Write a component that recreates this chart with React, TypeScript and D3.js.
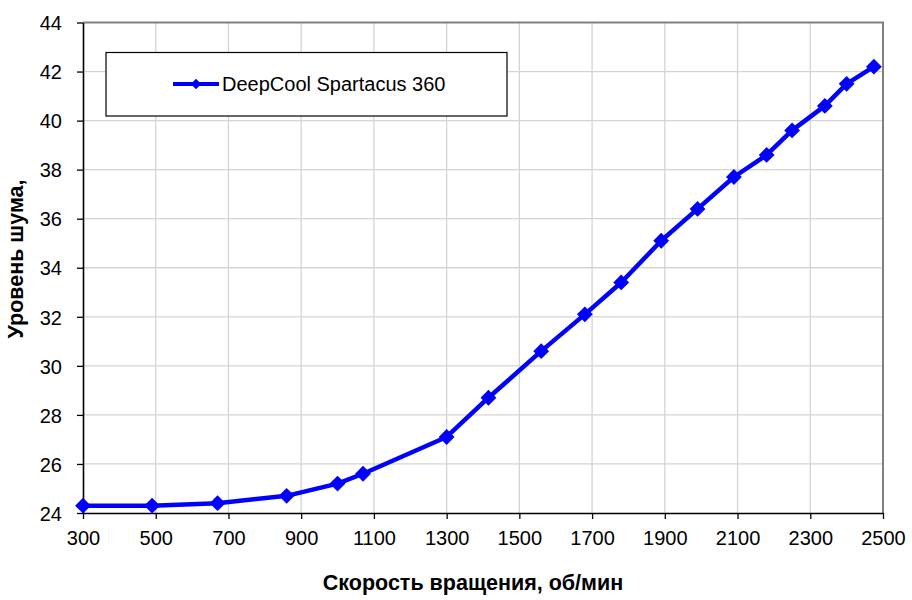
import React, { useEffect, useRef } from "react";
import * as d3 from "d3";

const WIDTH = 912;
const HEIGHT = 600;

const SERIES_NAME = "DeepCool Spartacus 360";
const rpm = [300, 490, 670, 860, 1000, 1070, 1300, 1415, 1560, 1680, 1780, 1890, 1990, 2090, 2180, 2250, 2340, 2400, 2475];
const noise = [24.3, 24.3, 24.4, 24.7, 25.2, 25.6, 27.1, 28.7, 30.6, 32.1, 33.4, 35.1, 36.4, 37.7, 38.6, 39.6, 40.6, 41.5, 42.2];
const xTicks = [300, 500, 700, 900, 1100, 1300, 1500, 1700, 1900, 2100, 2300, 2500];
const yTicks = [24, 26, 28, 30, 32, 34, 36, 38, 40, 42, 44];

const margin = { left: 83, right: 29, top: 22.5, bottom: 87 };
const FONT = "'Liberation Sans', Arial, sans-serif";
const BLUE = "#0000ff";

export default function App() {
  const ref = useRef<SVGSVGElement>(null);

  useEffect(() => {
    const container = ref.current;
    if (!container) return;

    const svg = d3.select(container);
    svg.selectAll("*").remove();

    const x = d3
      .scaleLinear()
      .domain([300, 2500])
      .range([margin.left, WIDTH - margin.right]);
    const y = d3
      .scaleLinear()
      .domain([24, 44])
      .range([HEIGHT - margin.bottom, margin.top]);

    const x0 = x(300), x1 = x(2500), y0 = y(24), y1 = y(44);

    // grid
    svg
      .append("g")
      .selectAll("line")
      .data(xTicks.slice(1, -1))
      .enter()
      .append("line")
      .attr("x1", (d) => x(d))
      .attr("x2", (d) => x(d))
      .attr("y1", y0)
      .attr("y2", y1)
      .attr("stroke", "#d4d4d4")
      .attr("stroke-width", 1.3);

    svg
      .append("g")
      .selectAll("line")
      .data(yTicks.slice(1, -1))
      .enter()
      .append("line")
      .attr("x1", x0)
      .attr("x2", x1)
      .attr("y1", (d) => y(d))
      .attr("y2", (d) => y(d))
      .attr("stroke", "#d4d4d4")
      .attr("stroke-width", 1.3);

    // plot frame (top/right grey)
    svg
      .append("path")
      .attr("d", `M${x0},${y1}H${x1}V${y0}`)
      .attr("fill", "none")
      .attr("stroke", "#808080")
      .attr("stroke-width", 2);

    // axes
    const xAxis = d3
      .axisBottom(x)
      .tickValues(xTicks)
      .tickSize(6)
      .tickSizeOuter(0)
      .tickPadding(12)
      .tickFormat((d) => String(d));
    const yAxis = d3
      .axisLeft(y)
      .tickValues(yTicks)
      .tickSize(6)
      .tickSizeOuter(0)
      .tickPadding(15)
      .tickFormat((d) => String(d));

    const gx = svg.append("g").attr("transform", `translate(0,${y0})`).call(xAxis);
    const gy = svg.append("g").attr("transform", `translate(${x0},0)`).call(yAxis);

    [gx, gy].forEach((g) => {
      g.select(".domain").attr("stroke", "#000").attr("stroke-width", 1.6);
      g.selectAll(".tick line").attr("stroke", "#000").attr("stroke-width", 1.3);
      g.selectAll(".tick text")
        .attr("fill", "#000")
        .style("font-family", FONT)
        .style("font-size", "20px");
    });
    gy.selectAll(".tick text").attr("dy", "0.36em");

    // series
    const line = d3
      .line<number>()
      .x((_, i) => x(rpm[i]))
      .y((d) => y(d));

    svg
      .append("path")
      .datum(noise)
      .attr("d", line)
      .attr("fill", "none")
      .attr("stroke", BLUE)
      .attr("stroke-width", 4.5)
      .attr("stroke-linejoin", "round");

    const marker = d3.symbol().type(d3.symbolSquare).size(125);
    svg
      .append("g")
      .selectAll("path")
      .data(noise)
      .enter()
      .append("path")
      .attr("d", marker)
      .attr("transform", (d, i) => `translate(${x(rpm[i])},${y(d)}) rotate(45)`)
      .attr("fill", BLUE);

    // legend
    const legend = svg.append("g");
    legend
      .append("rect")
      .attr("x", 106)
      .attr("y", 52.5)
      .attr("width", 401)
      .attr("height", 63.5)
      .attr("fill", "#fff")
      .attr("stroke", "#000")
      .attr("stroke-width", 1.2);
    legend
      .append("line")
      .attr("x1", 173)
      .attr("x2", 219)
      .attr("y1", 84)
      .attr("y2", 84)
      .attr("stroke", BLUE)
      .attr("stroke-width", 4);
    legend
      .append("path")
      .attr("d", d3.symbol().type(d3.symbolSquare).size(55)())
      .attr("transform", "translate(196,84) rotate(45)")
      .attr("fill", BLUE);
    legend
      .append("text")
      .attr("x", 222)
      .attr("y", 91)
      .style("font-family", FONT)
      .style("font-size", "20px")
      .text(SERIES_NAME);

    // axis titles
    svg
      .append("text")
      .attr("x", 473)
      .attr("y", 590)
      .attr("text-anchor", "middle")
      .style("font-family", FONT)
      .style("font-size", "21.5px")
      .style("font-weight", "bold")
      .text("Скорость вращения, об/мин");

    svg
      .append("text")
      .attr("transform", "translate(23,259) rotate(-90)")
      .attr("text-anchor", "middle")
      .style("font-family", FONT)
      .style("font-size", "21.5px")
      .style("font-weight", "bold")
      .text("Уровень шума,");
  }, [ref]);

  return (
    <svg
      ref={ref}
      width={WIDTH}
      height={HEIGHT}
      style={{ position: "absolute", left: 0, top: 0, background: "#fff" }}
    />
  );
}
